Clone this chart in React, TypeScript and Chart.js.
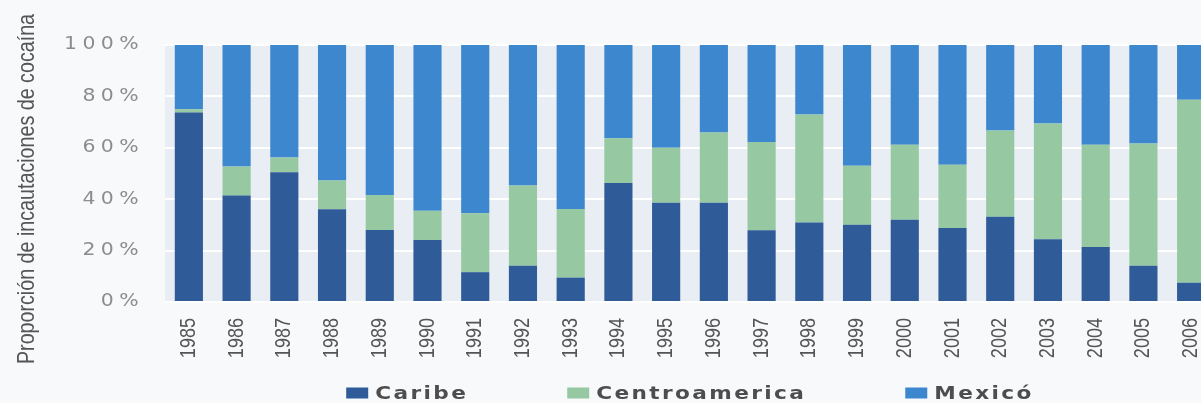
import { useEffect, useRef } from 'react';
import { Chart, registerables } from 'chart.js';

Chart.register(...registerables);

const years = ['1985', '1986', '1987', '1988', '1989', '1990', '1991', '1992', '1993', '1994', '1995', '1996', '1997', '1998', '1999', '2000', '2001', '2002', '2003', '2004', '2005', '2006'];
const caribe = [73.7, 41.4, 50.5, 36.1, 28.0, 24.1, 11.6, 14.1, 9.5, 46.3, 38.6, 38.6, 27.9, 30.9, 30.1, 32.0, 28.8, 33.2, 24.4, 21.4, 14.1, 7.5];
const centroamerica = [1.3, 11.3, 5.7, 11.2, 13.6, 11.4, 22.9, 31.2, 26.7, 17.4, 21.4, 27.4, 34.4, 42.1, 22.9, 29.2, 24.6, 33.5, 45.1, 39.8, 47.6, 71.2];
const mexico = [25.0, 47.3, 43.8, 52.7, 58.4, 64.5, 65.5, 54.7, 63.8, 36.3, 40.0, 34.0, 37.7, 27.0, 47.0, 38.8, 46.6, 33.3, 30.5, 38.8, 38.3, 21.3];
const seriesNames = ['Caribe', 'Centroamerica', 'Mexicó'];
const yTickStep = 20;
const yMax = 100;
const yTitle = 'Proporción de incautaciones de cocaína';

const COLORS = ['#2f5b98', '#96c8a2', '#3d87cf'];
const SANS = '"Liberation Sans", Arial, sans-serif';
const NARROW_SCALE = 0.82;
const WIDE_SCALE = 1.2;

function withStretch(chart: any, sx: number, spacing: string, fn: () => void) {
  const c = chart.ctx;
  const protoRotate = CanvasRenderingContext2D.prototype.rotate;
  c.save();
  c.letterSpacing = spacing;
  (c as any).rotate = function (ang: number) {
    protoRotate.call(this, ang);
    this.scale(sx, 1);
  };
  try {
    fn();
  } finally {
    delete (c as any).rotate;
    c.restore();
  }
}

export default function App() {
  const ref = useRef<HTMLCanvasElement>(null);

  useEffect(() => {
    const canvas = ref.current;
    if (!canvas) return;

    const bgPlugin = {
      id: 'plotBg',
      beforeDraw(chart: any) {
        const { ctx, chartArea: a } = chart;
        ctx.save();
        ctx.fillStyle = '#e9eef5';
        ctx.fillRect(a.left, a.top, a.right - a.left, a.bottom - a.top);
        ctx.restore();
      },
    };

    const labelStylePlugin = {
      id: 'labelStyle',
      beforeDraw(chart: any) {
        const y = chart.scales.y;
        if (y && !y.__patched) {
          const orig = y.drawLabels.bind(y);
          y.drawLabels = (ca: any) => withStretch(chart, WIDE_SCALE, '4.5px', () => orig(ca));
          y.__patched = true;
        }
        const x = chart.scales.x;
        if (x && !x.__patched) {
          const origX = x.drawLabels.bind(x);
          x.drawLabels = (ca: any) => withStretch(chart, NARROW_SCALE, '0px', () => origX(ca));
          x.__patched = true;
        }
      },
    };

    const titlePlugin = {
      id: 'yTitle',
      afterDraw(chart: any) {
        const { ctx, chartArea: a } = chart;
        ctx.save();
        ctx.translate(27, a.bottom - 113);
        ctx.rotate(-Math.PI / 2);
        ctx.scale(NARROW_SCALE, 1);
        ctx.font = `24px ${SANS}`;
        ctx.fillStyle = '#555555';
        ctx.textAlign = 'center';
        ctx.textBaseline = 'middle';
        ctx.fillText(yTitle, 0, 0);
        ctx.restore();
      },
    };

    const legendPlugin = {
      id: 'customLegend',
      afterDraw(chart: any) {
        const { ctx, chartArea: a } = chart;
        ctx.save();
        ctx.font = 'bold 18px "DejaVu Sans", sans-serif';
        (ctx as any).letterSpacing = '2px';
        const boxW = 22;
        const boxH = 11;
        const textGap = 7;
        const itemGap = 99;
        const items = chart.data.datasets.map((d: any) => ({
          label: d.label,
          color: d.backgroundColor,
          tw: ctx.measureText(d.label).width * WIDE_SCALE,
        }));
        items.forEach((it: any) => (it.w = boxW + textGap + it.tw));
        const total = items.reduce((s: number, it: any) => s + it.w, 0) + itemGap * (items.length - 1);
        let x = (a.left + a.right) / 2 - total / 2;
        const y = 393;
        ctx.textBaseline = 'middle';
        ctx.textAlign = 'left';
        items.forEach((it: any) => {
          ctx.fillStyle = it.color;
          ctx.fillRect(x, y - boxH / 2, boxW, boxH);
          ctx.save();
          ctx.translate(x + boxW + textGap, y + 1);
          ctx.scale(WIDE_SCALE, 1);
          ctx.fillStyle = '#4d4d4d';
          ctx.fillText(it.label, 0, 0);
          ctx.restore();
          x += it.w + itemGap;
        });
        ctx.restore();
      },
    };

    const chart = new Chart(canvas, {
      type: 'bar',
      data: {
        labels: years,
        datasets: [
          { label: seriesNames[0], data: caribe, backgroundColor: COLORS[0] },
          { label: seriesNames[1], data: centroamerica, backgroundColor: COLORS[1] },
          { label: seriesNames[2], data: mexico, backgroundColor: COLORS[2] },
        ].map((d) => ({ ...d, borderWidth: 0, barPercentage: 0.59, categoryPercentage: 1.0 })),
      },
      options: {
        responsive: false,
        animation: false,
        devicePixelRatio: 1,
        layout: { padding: { top: 45, right: 25, bottom: 0, left: 0 } },
        plugins: {
          legend: { display: false },
          tooltip: { enabled: false },
        },
        scales: {
          x: {
            stacked: true,
            grid: { display: false, drawTicks: false },
            border: { display: false },
            ticks: {
              autoSkip: false,
              maxRotation: 90,
              minRotation: 90,
              padding: 16,
              color: '#555555',
              font: { family: SANS, size: 22 },
            },
            afterFit: (s: any) => {
              s.height = 101;
            },
          },
          y: {
            stacked: true,
            min: 0,
            max: yMax,
            grid: { color: '#ffffff', lineWidth: 2, drawTicks: false },
            border: { display: false },
            ticks: {
              stepSize: yTickStep,
              padding: 21,
              color: '#8c8c8c',
              font: { family: '"DejaVu Sans", sans-serif', size: 17 },
              callback: (v: any) => `${v}%`,
            },
            afterFit: (s: any) => {
              s.width = 165;
            },
          },
        },
      },
      plugins: [bgPlugin, labelStylePlugin, titlePlugin, legendPlugin],
    });

    return () => chart.destroy();
  }, []);

  return (
    <div
      style={{
        position: 'fixed',
        left: 0,
        top: 0,
        width: 1201,
        height: 403,
        overflow: 'hidden',
        background: '#f8f9fb',
      }}
    >
      <canvas ref={ref} width={1240} height={403} style={{ display: 'block', width: 1240, height: 403 }} />
    </div>
  );
}
